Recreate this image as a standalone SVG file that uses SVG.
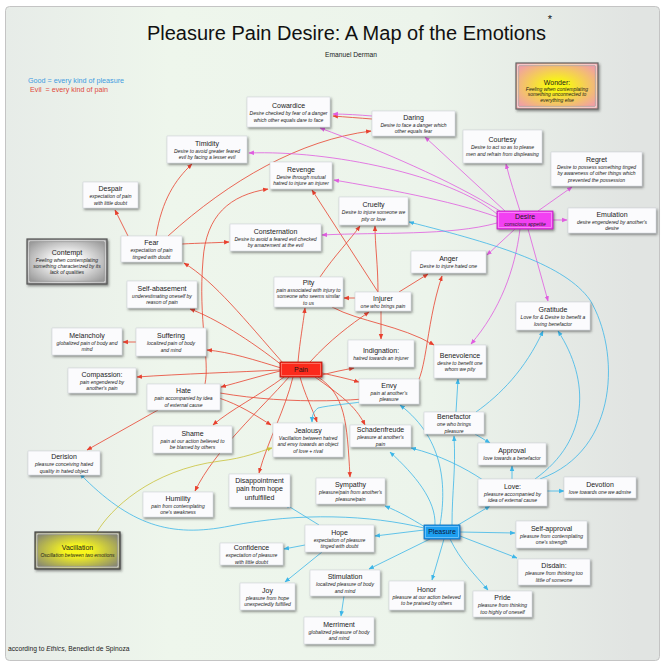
<svg xmlns="http://www.w3.org/2000/svg" width="665" height="667" viewBox="0 0 665 667">
<defs>
<style>
.t{font-family:"Liberation Sans",Arial,sans-serif;font-size:7px;fill:#1a1a1a;text-anchor:middle}
.s{font-family:"Liberation Sans",Arial,sans-serif;font-size:5px;font-style:italic;fill:#1a1a1a;text-anchor:middle}
.bx{fill:#fbfbfd;stroke:#c8ccd4;stroke-width:.5;filter:url(#sh)}
.r{fill:none;stroke:#e8412f;stroke-width:.8;marker-end:url(#ar)}
.m{fill:none;stroke:#e05ce0;stroke-width:.8;marker-end:url(#am)}
.b{fill:none;stroke:#3cb6e8;stroke-width:.8;marker-end:url(#ab)}
.y{fill:none;stroke:#c9c23a;stroke-width:.8;marker-end:url(#ay)}
</style>
<linearGradient id="bg" x1="0" y1="0" x2="1" y2="0">
<stop offset="0" stop-color="#e7ece8"/><stop offset="0.25" stop-color="#eef6ec"/><stop offset="0.65" stop-color="#ecf4eb"/><stop offset="0.96" stop-color="#e1e4e2"/></linearGradient>
<radialGradient id="gW" cx="0.5" cy="0.5" r="0.6"><stop offset="0.2" stop-color="#f8f416"/><stop offset="1" stop-color="#f0a0a4"/></radialGradient>
<radialGradient id="gC" cx="0.5" cy="0.5" r="0.6"><stop offset="0.25" stop-color="#ffffff"/><stop offset="1" stop-color="#9c9c9c"/></radialGradient>
<radialGradient id="gV" cx="0.5" cy="0.5" r="0.6"><stop offset="0.25" stop-color="#f8f61e"/><stop offset="1" stop-color="#8a8a70"/></radialGradient>
<filter id="sh" x="-10%" y="-10%" width="130%" height="150%"><feDropShadow dx="1.2" dy="1.6" stdDeviation="0.8" flood-color="#333" flood-opacity="0.55"/></filter>
<marker id="ar" viewBox="0 0 10 10" refX="9" refY="5" markerWidth="5.5" markerHeight="5.5" markerUnits="userSpaceOnUse" orient="auto"><path d="M0,1 L10,5 L0,9 z" fill="#e8412f"/></marker>
<marker id="am" viewBox="0 0 10 10" refX="9" refY="5" markerWidth="5.5" markerHeight="5.5" markerUnits="userSpaceOnUse" orient="auto"><path d="M0,1 L10,5 L0,9 z" fill="#e05ce0"/></marker>
<marker id="ab" viewBox="0 0 10 10" refX="9" refY="5" markerWidth="5.5" markerHeight="5.5" markerUnits="userSpaceOnUse" orient="auto"><path d="M0,1 L10,5 L0,9 z" fill="#3cb6e8"/></marker>
<marker id="ay" viewBox="0 0 10 10" refX="9" refY="5" markerWidth="5.5" markerHeight="5.5" markerUnits="userSpaceOnUse" orient="auto"><path d="M0,1 L10,5 L0,9 z" fill="#c9c23a"/></marker>
</defs>
<rect width="665" height="667" fill="#ffffff"/>
<rect x="5.5" y="6.5" width="654" height="654" rx="4" fill="url(#bg)" stroke="#c4c4c4"/>
<text x="346.5" y="40" style="font-family:'Liberation Sans',Arial,sans-serif;font-size:20px;fill:#111" text-anchor="middle">Pleasure Pain Desire: A Map of the Emotions</text>
<text x="550" y="23" style="font-family:'Liberation Sans',Arial,sans-serif;font-size:11px;fill:#111" text-anchor="middle">*</text>
<text x="351" y="56.5" style="font-family:'Liberation Sans',Arial,sans-serif;font-size:6.7px;fill:#222" text-anchor="middle">Emanuel Derman</text>
<text x="28" y="82.5" style="font-family:'Liberation Sans',Arial,sans-serif;font-size:7.2px;fill:#3e9be0">Good = every kind of pleasure</text>
<text x="30" y="91.5" style="font-family:'Liberation Sans',Arial,sans-serif;font-size:7.2px;fill:#e04a40;white-space:pre">Evil  = every kind of pain</text>
<text x="8" y="651" style="font-family:'Liberation Sans',Arial,sans-serif;font-size:6.7px;fill:#222">according to <tspan font-style="italic">Ethics</tspan>, Benedict de Spinoza</text>

<g id="connectors">
<path class="r" d="M283,363 C245,320 215,282 184,263"/>
<path class="r" d="M283,366 C250,340 215,318 190,309"/>
<path class="r" d="M281,368 C255,360 230,352 207,350"/>
<path class="r" d="M280,370 C240,372 180,374 137,377"/>
<path class="r" d="M280,371 C260,376 240,382 221,387"/>
<path class="r" d="M284,377 C260,395 230,410 213,425"/>
<path class="r" d="M289,377 C260,410 215,450 195,491"/>
<path class="r" d="M293,377 C285,410 268,440 259,473"/>
<path class="r" d="M300,377 C305,395 312,408 317,422"/>
<path class="r" d="M315,377 C340,395 355,405 365,425"/>
<path class="r" d="M318,377 C345,395 347,420 350,477"/>
<path class="r" d="M322,373 C335,376 345,378 359,382"/>
<path class="r" d="M322,375 C333,372 343,370 354,368"/>
<path class="r" d="M298,362 C300,340 303,325 305,308"/>
<path class="r" d="M310,362 C330,340 350,325 369,312"/>
<path class="r" d="M158,410 L87,450"/>
<path class="r" d="M219,398 C240,405 255,415 271,425"/>
<path class="r" d="M205,384 C210,360 198,320 203,260 C206,215 230,195 268,189"/>
<path class="r" d="M220,393 C290,405 370,402 410,392 C428,380 424,330 442,276"/>
<path class="r" d="M128,236 L115,210"/>
<path class="r" d="M156,236 C162,200 175,180 192,164"/>
<path class="r" d="M168,236 C230,180 300,140 371,131"/>
<path class="r" d="M182,244 C200,243 212,243 229,242"/>
<path class="r" d="M355,298 L344,298"/>
<path class="r" d="M378,292 C378,265 375,245 375,226"/>
<path class="r" d="M378,292 L312,190"/>
<path class="r" d="M399,292 L428,274"/>
<path class="r" d="M381,311 L381,339"/>
<path class="r" d="M320,277 C335,255 350,240 360,226"/>
<path class="r" d="M332,307 C360,322 400,325 434,345"/>
<path class="r" d="M372,119 C360,118 345,117 333,116"/>
<path class="r" d="M136,342 L123,342"/>
<path class="m" d="M372,116 C360,115 345,114 333,114"/>
<path class="m" d="M520,211 C515,195 510,180 506,164"/>
<path class="m" d="M538,211 L572,187"/>
<path class="m" d="M553,220 L567,220"/>
<path class="m" d="M528,229 L548,301"/>
<path class="m" d="M515,229 L487,255"/>
<path class="m" d="M520,229 C515,270 500,310 471,344"/>
<path class="m" d="M505,211 L425,137"/>
<path class="m" d="M500,211 C450,180 380,150 320,128"/>
<path class="m" d="M497,214 C450,175 330,150 249,153"/>
<path class="m" d="M497,217 C450,200 380,188 334,180"/>
<path class="m" d="M497,223 C450,236 380,232 322,235"/>
<path class="b" d="M424,530 L375,536"/>
<path class="b" d="M305,545 L284,549"/>
<path class="b" d="M322,552 L285,582"/>
<path class="b" d="M319,525 L285,504"/>
<path class="b" d="M425,527 C410,518 400,512 385,506"/>
<path class="b" d="M430,539 L369,569"/>
<path class="b" d="M344,596 L341,616"/>
<path class="b" d="M444,539 L432,580"/>
<path class="b" d="M450,539 C460,560 475,575 488,590"/>
<path class="b" d="M460,536 L517,558"/>
<path class="b" d="M460,532 L515,533"/>
<path class="b" d="M458,525 L490,506"/>
<path class="b" d="M424,528 C370,515 300,512 230,526 C170,538 130,525 80,474"/>
<path class="b" d="M452,525 C452,490 456,470 454,436"/>
<path class="b" d="M440,525 C446,490 446,440 400,405"/>
<path class="b" d="M435,525 C436,500 415,475 390,452"/>
<path class="b" d="M483,480 C465,468 440,455 411,448"/>
<path class="b" d="M512,479 L512,466"/>
<path class="b" d="M547,491 L564,491"/>
<path class="b" d="M535,479 C590,440 590,380 558,331"/>
<path class="b" d="M540,479 C620,450 620,350 590,300 C565,265 500,245 409,222"/>
<path class="b" d="M456,412 L458,379"/>
<path class="b" d="M475,434 L490,443"/>
<path class="b" d="M476,412 C500,395 525,370 543,331"/>
<path class="b" d="M375,400 C350,404 330,405 318,408 C313,412 312,416 312,422"/>
<path class="y" d="M97,532 C110,510 150,470 220,461 C245,458 258,452 272,448"/>
</g>

<g id="cowardice"><rect class="bx" x="247" y="97" width="83" height="30"/><text class="t" x="288.5" y="108.3">Cowardice</text><text class="s" x="288.5" y="115.3">Desire checked by fear of a danger</text><text class="s" x="288.5" y="121.5">which other equals dare to face</text></g>
<g id="daring"><rect class="bx" x="372" y="111" width="83" height="25"/><text class="t" x="413.5" y="119.8">Daring</text><text class="s" x="413.5" y="126.8">Desire to face a danger which</text><text class="s" x="413.5" y="133">other equals fear</text></g>
<g id="wonder"><rect x="516" y="63" width="82" height="46" fill="url(#gW)" stroke="#666" stroke-width="1.2" filter="url(#sh)"/><rect x="518" y="65" width="78" height="42" fill="none" stroke="#fff" stroke-width=".8"/><rect x="518.8" y="65.8" width="76.4" height="40.4" fill="none" stroke="#888" stroke-width=".5"/><text class="t" x="557" y="84.5">Wonder:</text><text class="s" x="557" y="90.5">Feeling when contemplating</text><text class="s" x="557" y="96.3">something unconnected to</text><text class="s" x="557" y="102.1">everything else</text></g>
<g id="courtesy"><rect class="bx" x="463" y="130" width="79" height="33"/><text class="t" x="502.5" y="142.3">Courtesy</text><text class="s" x="502.5" y="149.3">Desire to act so as to please</text><text class="s" x="502.5" y="155.5">men and refrain from displeasing</text></g>
<g id="regret"><rect class="bx" x="551" y="152" width="91" height="34"/><text class="t" x="596.5" y="162.2">Regret</text><text class="s" x="596.5" y="169.2">Desire to possess something tinged</text><text class="s" x="596.5" y="175.4">by awareness of other things which</text><text class="s" x="596.5" y="181.6">prevented the possession</text></g>
<g id="timidity"><rect class="bx" x="167" y="136" width="80" height="27"/><text class="t" x="207" y="145.8">Timidity</text><text class="s" x="207" y="152.8">Desire to avoid greater feared</text><text class="s" x="207" y="159">evil by facing a lesser evil</text></g>
<g id="revenge"><rect class="bx" x="270" y="162" width="62" height="27"/><text class="t" x="301" y="171.8">Revenge</text><text class="s" x="301" y="178.8">Desire through mutual</text><text class="s" x="301" y="185">hatred to injure an injurer</text></g>
<g id="despair"><rect class="bx" x="83" y="182" width="55" height="26"/><text class="t" x="110.5" y="191.3">Despair</text><text class="s" x="110.5" y="198.3">expectation of pain</text><text class="s" x="110.5" y="204.5">with little doubt</text></g>
<g id="contempt"><rect x="27" y="239" width="80" height="45" fill="url(#gC)" stroke="#555" stroke-width="1.2" filter="url(#sh)"/><rect x="29" y="241" width="76" height="41" fill="none" stroke="#fff" stroke-width=".8"/><rect x="29.8" y="241.8" width="74.4" height="39.4" fill="none" stroke="#777" stroke-width=".5"/><text class="t" x="67" y="254.5">Contempt</text><text class="s" x="67" y="261.7">Feeling when contemplating</text><text class="s" x="67" y="267.9">something characterized by its</text><text class="s" x="67" y="274.1">lack of qualities</text></g>
<g id="fear"><rect class="bx" x="121" y="236" width="61" height="26"/><text class="t" x="151.5" y="245.3">Fear</text><text class="s" x="151.5" y="252.3">expectation of pain</text><text class="s" x="151.5" y="258.5">tinged with doubt</text></g>
<g id="self-abasement"><rect class="bx" x="127" y="281" width="70" height="27"/><text class="t" x="162" y="290.8">Self-abasement</text><text class="s" x="162" y="297.8">underestimating oneself by</text><text class="s" x="162" y="304">reason of pain</text></g>
<g id="cruelty"><rect class="bx" x="339" y="197" width="69" height="28"/><text class="t" x="373.5" y="207.3">Cruelty</text><text class="s" x="373.5" y="214.3">Desire to injure someone we</text><text class="s" x="373.5" y="220.5">pity or love</text></g>
<g id="consternation"><rect class="bx" x="230" y="224" width="91" height="27"/><text class="t" x="275.5" y="233.8">Consternation</text><text class="s" x="275.5" y="240.8">Desire to avoid a feared evil checked</text><text class="s" x="275.5" y="247">by amazement at the evil</text></g>
<g id="anger"><rect class="bx" x="411" y="251" width="75" height="22"/><text class="t" x="448.5" y="261.2">Anger</text><text class="s" x="448.5" y="268.2">Desire to injure hated one</text></g>
<g id="pity"><rect class="bx" x="274" y="277" width="69" height="30"/><text class="t" x="308.5" y="285.2">Pity</text><text class="s" x="308.5" y="292.2">pain associated with injury to</text><text class="s" x="308.5" y="298.4">someone who seems similar</text><text class="s" x="308.5" y="304.6">to us</text></g>
<g id="injurer"><rect class="bx" x="355" y="292" width="56" height="19"/><text class="t" x="383" y="300.9">Injurer</text><text class="s" x="383" y="307.9">one who brings pain</text></g>
<g id="desire"><rect x="497" y="211" width="56" height="18" fill="#f23ff2" stroke="#b820b8" stroke-width=".8" filter="url(#sh)"/><rect x="498.5" y="212.5" width="53" height="15" fill="none" stroke="#ffb0ff" stroke-width=".6"/><text class="t" x="525" y="219.3">Desire</text><text class="s" x="525" y="226.1">conscious appetite</text></g>
<g id="emulation"><rect class="bx" x="568" y="208" width="88" height="25"/><text class="t" x="612" y="216.8">Emulation</text><text class="s" x="612" y="223.8">desire engendered by another's</text><text class="s" x="612" y="230">desire</text></g>
<g id="gratitude"><rect class="bx" x="516" y="302" width="74" height="28"/><text class="t" x="553" y="312.3">Gratitude</text><text class="s" x="553" y="319.3">Love for &amp; Desire to benefit a</text><text class="s" x="553" y="325.5">loving benefactor</text></g>
<g id="melancholy"><rect class="bx" x="52" y="328" width="70" height="27"/><text class="t" x="87" y="337.8">Melancholy</text><text class="s" x="87" y="344.8">globalized pain of body and</text><text class="s" x="87" y="351">mind</text></g>
<g id="suffering"><rect class="bx" x="136" y="328" width="70" height="28"/><text class="t" x="171" y="338.3">Suffering</text><text class="s" x="171" y="345.3">localized pain of body</text><text class="s" x="171" y="351.5">and mind</text></g>
<g id="compassion"><rect class="bx" x="68" y="368" width="68" height="25"/><text class="t" x="102" y="376.8">Compassion:</text><text class="s" x="102" y="383.8">pain engendered by</text><text class="s" x="102" y="390">another's pain</text></g>
<g id="hate"><rect class="bx" x="147" y="384" width="73" height="26"/><text class="t" x="183.5" y="393.3">Hate</text><text class="s" x="183.5" y="400.3">pain accompanied by idea</text><text class="s" x="183.5" y="406.5">of external cause</text></g>
<g id="shame"><rect class="bx" x="153" y="426" width="79" height="27"/><text class="t" x="192.5" y="435.8">Shame</text><text class="s" x="192.5" y="442.8">pain at our action believed to</text><text class="s" x="192.5" y="449">be blamed by others</text></g>
<g id="derision"><rect class="bx" x="28" y="451" width="72" height="24"/><text class="t" x="64" y="459.3">Derision</text><text class="s" x="64" y="466.3">pleasure conceiving hated</text><text class="s" x="64" y="472.5">quality in hated object</text></g>
<g id="humility"><rect class="bx" x="143" y="492" width="70" height="25"/><text class="t" x="178" y="500.8">Humility</text><text class="s" x="178" y="507.8">pain from contemplating</text><text class="s" x="178" y="514">one's weakness</text></g>
<g id="pain"><rect x="280" y="362" width="42" height="15" fill="#fb2a1c" stroke="#b01810" stroke-width=".8" filter="url(#sh)"/><rect x="281.5" y="363.5" width="39" height="12" fill="none" stroke="#ff9a8a" stroke-width=".6"/><text class="t" x="301" y="372">Pain</text></g>
<g id="indignation"><rect class="bx" x="348" y="340" width="66" height="27"/><text class="t" x="381" y="352.9">Indignation:</text><text class="s" x="381" y="359.9">hatred towards an injurer</text></g>
<g id="envy"><rect class="bx" x="359" y="379" width="60" height="25"/><text class="t" x="389" y="387.8">Envy</text><text class="s" x="389" y="394.8">pain at another's</text><text class="s" x="389" y="401">pleasure</text></g>
<g id="benevolence"><rect class="bx" x="434" y="345" width="52" height="33"/><text class="t" x="460" y="357.8">Benevolence</text><text class="s" x="460" y="364.8">desire to benefit one</text><text class="s" x="460" y="371">whom we pity</text></g>
<g id="benefactor"><rect class="bx" x="424" y="412" width="60" height="22"/><text class="t" x="454" y="419.3">Benefactor</text><text class="s" x="454" y="426.3">one who brings</text><text class="s" x="454" y="432.5">pleasure</text></g>
<g id="jealousy"><rect class="bx" x="273" y="423" width="70" height="34"/><text class="t" x="308" y="433.2">Jealousy</text><text class="s" x="308" y="440.2">Vacillation between hatred</text><text class="s" x="308" y="446.4">and envy towards an object</text><text class="s" x="308" y="452.6">of love + rival</text></g>
<g id="schadenfreude"><rect class="bx" x="350" y="425" width="61" height="22"/><text class="t" x="380.5" y="432.3">Schadenfreude</text><text class="s" x="380.5" y="439.3">pleasure at another's</text><text class="s" x="380.5" y="445.5">pain</text></g>
<g id="approval"><rect class="bx" x="478" y="443" width="68" height="22"/><text class="t" x="512" y="453.2">Approval</text><text class="s" x="512" y="460.4">love towards a benefactor</text></g>
<g id="love"><rect class="bx" x="478" y="479" width="69" height="27"/><text class="t" x="512.5" y="488.8">Love:</text><text class="s" x="512.5" y="495.8">pleasure accompanied by</text><text class="s" x="512.5" y="502">idea of external cause</text></g>
<g id="devotion"><rect class="bx" x="564" y="477" width="72" height="21"/><text class="t" x="600" y="486.9">Devotion</text><text class="s" x="600" y="493.9">love towards one we admire</text></g>
<g id="disappointment"><rect class="bx" x="229" y="474" width="61" height="33"/><text class="t" x="259.5" y="482.5">Disappointment</text><text class="t" x="259.5" y="491">pain from hope</text><text class="t" x="259.5" y="499.5">unfulfilled</text></g>
<g id="sympathy"><rect class="bx" x="316" y="478" width="69" height="26"/><text class="t" x="350.5" y="487.3">Sympathy</text><text class="s" x="350.5" y="494.3">pleasure/pain from another's</text><text class="s" x="350.5" y="500.5">pleasure/pain</text></g>
<g id="vacillation"><rect x="35" y="532" width="85" height="37" fill="url(#gV)" stroke="#444" stroke-width="1.2" filter="url(#sh)"/><rect x="37" y="534" width="81" height="33" fill="none" stroke="#fff" stroke-width=".8"/><rect x="37.8" y="534.8" width="79.4" height="31.4" fill="none" stroke="#777" stroke-width=".5"/><text class="t" x="77.5" y="549.7">Vacillation</text><text class="s" x="77.5" y="557">Oscillation between two emotions</text></g>
<g id="hope"><rect class="bx" x="305" y="525" width="69" height="27"/><text class="t" x="339.5" y="534.8">Hope</text><text class="s" x="339.5" y="541.8">expectation of pleasure</text><text class="s" x="339.5" y="548">tinged with doubt</text></g>
<g id="confidence"><rect class="bx" x="220" y="543" width="63" height="22"/><text class="t" x="251.5" y="550.3">Confidence</text><text class="s" x="251.5" y="557.3">expectation of pleasure</text><text class="s" x="251.5" y="563.5">with little doubt</text></g>
<g id="pleasure"><rect x="424" y="525" width="36" height="14" fill="#1b9ef0" stroke="#1068b8" stroke-width=".8" filter="url(#sh)"/><rect x="425.5" y="526.5" width="33" height="11" fill="none" stroke="#9ad6ff" stroke-width=".6"/><text class="t" x="442" y="534.3" style="fill:#0a1a40">Pleasure</text></g>
<g id="stimulation"><rect class="bx" x="310" y="570" width="70" height="26"/><text class="t" x="345" y="579.3">Stimulation</text><text class="s" x="345" y="586.3">localized pleasure of body</text><text class="s" x="345" y="592.5">and mind</text></g>
<g id="joy"><rect class="bx" x="240" y="583" width="55" height="27"/><text class="t" x="267.5" y="592.8">Joy</text><text class="s" x="267.5" y="599.8">pleasure from hope</text><text class="s" x="267.5" y="606">unexpectedly fulfilled</text></g>
<g id="honor"><rect class="bx" x="389" y="581" width="75" height="29"/><text class="t" x="426.5" y="591.8">Honor</text><text class="s" x="426.5" y="598.8">pleasure at our action believed</text><text class="s" x="426.5" y="605">to be praised by others</text></g>
<g id="merriment"><rect class="bx" x="304" y="617" width="70" height="27"/><text class="t" x="339" y="626.8">Merriment</text><text class="s" x="339" y="633.8">globalized pleasure of body</text><text class="s" x="339" y="640">and mind</text></g>
<g id="self-approval"><rect class="bx" x="516" y="521" width="71" height="27"/><text class="t" x="551.5" y="530.8">Self-approval</text><text class="s" x="551.5" y="537.8">pleasure from contemplating</text><text class="s" x="551.5" y="544">one's strength</text></g>
<g id="disdain"><rect class="bx" x="518" y="559" width="72" height="26"/><text class="t" x="554" y="568.3">Disdain:</text><text class="s" x="554" y="575.3">pleasure from thinking too</text><text class="s" x="554" y="581.5">little of someone</text></g>
<g id="pride"><rect class="bx" x="473" y="591" width="59" height="26"/><text class="t" x="502.5" y="600.3">Pride</text><text class="s" x="502.5" y="607.3">pleasure from thinking</text><text class="s" x="502.5" y="613.5">too highly of oneself</text></g>
</svg>
